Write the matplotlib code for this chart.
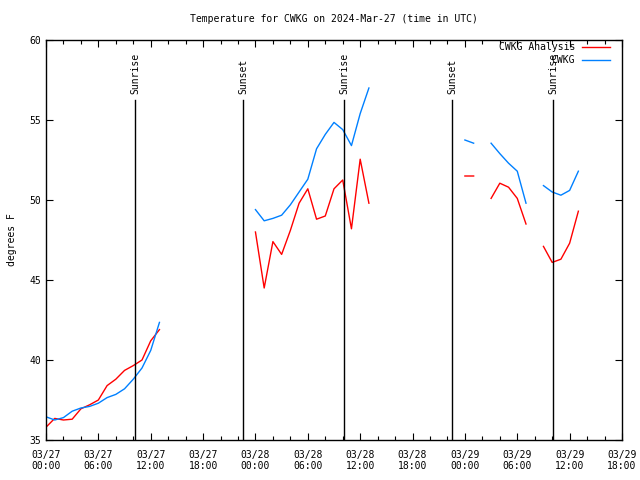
import matplotlib
matplotlib.use('Agg')
import matplotlib.pyplot as plt
import matplotlib.dates as mdates
import numpy as np
import pandas as pd

nan = np.nan

# hourly temps (deg F) from 2024-03-27 00 UTC, nan = missing hour
analysis = [35.8, 36.35, 36.25, 36.3, 36.95, 37.2, 37.5, 38.4, 38.8, 39.35, 39.65, 40.0, 41.2, 41.9,
            nan, nan, nan, nan, nan, nan, nan, nan, nan, nan,
            48.0, 44.5, 47.4, 46.6, 48.1, 49.8, 50.7, 48.8, 49.0, 50.7, 51.25, 48.2, 52.55, 49.8,
            nan, nan, nan, nan, nan, nan, nan, nan, nan, nan,
            51.5, 51.5, nan, 50.1, 51.05, 50.8, 50.1, 48.5, nan,
            47.1, 46.1, 46.3, 47.3, 49.3]
station = [36.45, 36.25, 36.4, 36.8, 37.0, 37.1, 37.3, 37.65, 37.85, 38.2, 38.8, 39.5, 40.6, 42.35,
           nan, nan, nan, nan, nan, nan, nan, nan, nan, nan,
           49.4, 48.7, 48.85, 49.05, 49.7, 50.5, 51.3, 53.2, 54.1, 54.85, 54.4, 53.4, 55.4, 57.0,
           nan, nan, nan, nan, nan, nan, nan, nan, nan, nan,
           53.75, 53.55, nan, 53.55, 52.9, 52.3, 51.8, 49.8, nan,
           50.9, 50.5, 50.3, 50.6, 51.8]
times = pd.date_range('2024-03-27 00:00', periods=len(analysis), freq='h')

sun_times = ['2024-03-27 10:12', '2024-03-27 22:36', '2024-03-28 10:11',
             '2024-03-28 22:34', '2024-03-29 10:08']
sun_labels = ['Sunrise', 'Sunset', 'Sunrise', 'Sunset', 'Sunrise']

font = 'DejaVu Sans Mono'
fs = 7

fig = plt.figure(figsize=(6.4, 4.8), dpi=100)
ax = fig.add_axes([46 / 640, 40 / 480, 576 / 640, 400 / 480])

ax.plot(times, analysis, '-', color='#ff0000', lw=1, label='CWKG Analysis')
ax.plot(times, station, '-', color='#0080ff', lw=1, label='CWKG')

for t, lab in zip(sun_times, sun_labels):
    tt = pd.Timestamp(t)
    ax.plot([tt, tt], [35, 56.25], '-', color='black', lw=1)
    ax.text(tt, 56.6, lab, rotation=90, ha='center', va='bottom',
            fontsize=fs, family=font)

ax.set_xlim(pd.Timestamp('2024-03-27 00:00'), pd.Timestamp('2024-03-29 18:00'))
ax.set_ylim(35, 60)
ax.set_yticks([35, 40, 45, 50, 55, 60])

ax.xaxis.set_major_locator(mdates.HourLocator(byhour=[0, 6, 12, 18]))
ax.xaxis.set_minor_locator(mdates.HourLocator(byhour=range(0, 24, 2)))
ax.xaxis.set_major_formatter(mdates.DateFormatter('%m/%d\n%H:%M'))

ax.tick_params(which='both', direction='in', top=True, right=True, labelsize=fs)
ax.tick_params(which='major', length=5, width=0.8)
ax.tick_params(which='minor', length=3, width=0.8)
ax.tick_params(axis='x', pad=7)
for lab in ax.get_xticklabels() + ax.get_yticklabels():
    lab.set_family(font)
for sp in ax.spines.values():
    sp.set_linewidth(1)

ax.set_ylabel('degrees F', fontsize=fs, family=font, labelpad=9)
fig.text(334 / 640, 1 - 19 / 480, 'Temperature for CWKG on 2024-Mar-27 (time in UTC)',
         ha='center', va='center', fontsize=fs, family=font)

leg = ax.legend(loc='upper right', bbox_to_anchor=(0.984, 1.0), frameon=False,
                markerfirst=False, handlelength=2.9,
                prop={'family': font, 'size': fs}, borderaxespad=0, labelspacing=0.3,
                handletextpad=0.7, borderpad=0.25)

fig.savefig('out.png', dpi=100)
